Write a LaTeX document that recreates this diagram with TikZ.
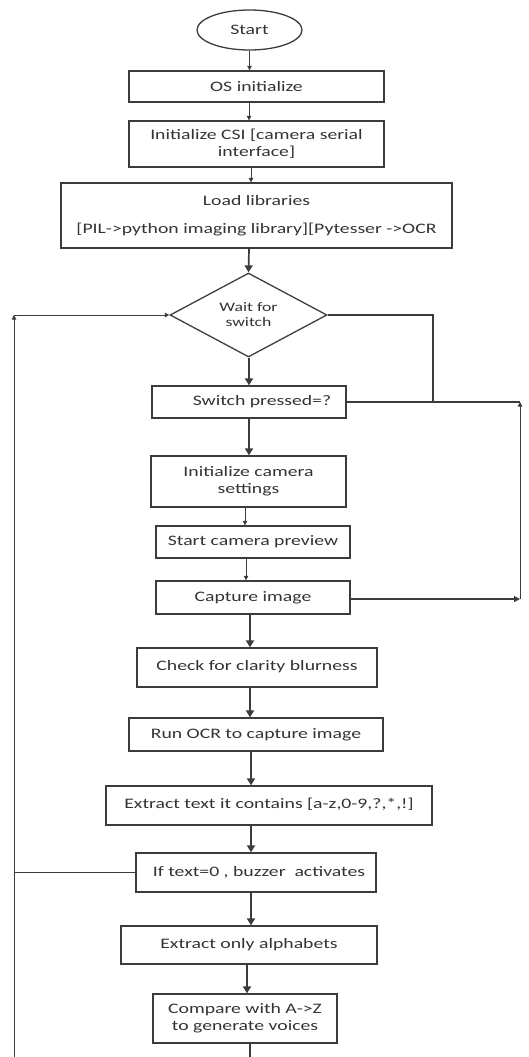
\documentclass[tikz,border=0pt]{standalone}
\usepackage{fontspec}
\setmainfont{Carlito}[FakeStretch=1.36]
\usetikzlibrary{shapes.geometric,arrows.meta}
\definecolor{ln}{HTML}{3C3C3C}
\tikzset{
  box/.style={draw=ln, line width=1.3pt, rectangle, inner sep=0pt, align=center, font=\fontsize{14.5}{17}\selectfont, text=black!80},
  thin/.style={draw=ln, line width=0.9pt, -{Triangle[width=4.5pt,length=4.5pt]}},
  bold/.style={draw=ln, line width=1.7pt, -{Triangle[width=8pt,length=7pt]}},
  plain/.style={draw=ln, line width=1.1pt},
}
\begin{document}
\begin{tikzpicture}[x=1pt,y=-1pt]
\useasboundingbox (0,0) rectangle (528,1057);
\node[box, ellipse, minimum width=105, minimum height=40] (start) at (249.5,30) {Start};
\node[box, minimum width=255, minimum height=31] (os) at (256.5,86.5) {OS initialize};
\node[box, minimum width=255, minimum height=46] (csi) at (256.5,144) {Initialize CSI [camera serial\\interface]};
\node[box, minimum width=391, minimum height=65] (load) at (256.5,215.5) {Load libraries\\[11pt][PIL->python imaging library][Pytesser ->OCR};
\node[box, diamond, aspect=1.87, minimum width=157, minimum height=84, font=\fontsize{13}{15}\selectfont] (wait) at (248.5,315) {Wait for\\switch};
\node[box, minimum width=194, minimum height=32] (switch) at (249,402) {\hspace{26pt}Switch pressed=?};
\node[box, minimum width=195, minimum height=51] (initcam) at (248.5,481.5) {Initialize camera\\settings};
\node[box, minimum width=194, minimum height=32] (preview) at (253,542) {Start camera preview};
\node[box, minimum width=194, minimum height=33] (capture) at (253,597.5) {Capture image};
\node[box, minimum width=240, minimum height=39] (check) at (257,667.5) {\raisebox{4pt}{Check for clarity blurness}};
\node[box, minimum width=254, minimum height=33] (ocr) at (256,734.5) {Run OCR to capture image};
\node[box, minimum width=326, minimum height=39] (extract) at (269,805.5) {\raisebox{4pt}{Extract text it contains [a-z,0-9,?,*,!]}};
\node[box, minimum width=240, minimum height=39] (iftext) at (256,872.5) {\hspace{6pt}If text=0 , buzzer \ activates};
\node[box, minimum width=256, minimum height=38] (only) at (249,945) {\raisebox{3pt}{Extract only alphabets}};
\node[box, minimum width=184, minimum height=49] (compare) at (245,1018.5) {Compare with A->Z\\to generate voices};

\coordinate (L1) at (14,1057);
\coordinate (L2) at (14,315);
\coordinate (R1) at (433,315);
\coordinate (R2) at (433,402);
\coordinate (R3) at (520,599);
\coordinate (R4) at (520,402);
\coordinate (E) at (250,1057);

\draw[thin] (start.south) -- (start.south |- os.north);
\draw[thin] (os.south -| 249,0) -- (249,0 |- csi.north);
\draw[thin] (csi.south -| 251,0) -- (251,0 |- load.north);
\draw[bold] (load.south -| 249,0) -- (wait.north);
\draw[bold] (wait.south -| 249,0) -- (249,0 |- switch.north);
\draw[bold] (switch.south) -- (switch.south |- initcam.north);
\draw[thin] (initcam.south -| 245,0) -- (245,0 |- preview.north);
\draw[thin] (preview.south -| 246,0) -- (246,0 |- capture.north);
\draw[bold] (capture.south -| 250,0) -- (250,0 |- check.north);
\draw[bold] (check.south -| 250,0) -- (250,0 |- ocr.north);
\draw[bold] (ocr.south -| 251,0) -- (251,0 |- extract.north);
\draw[bold] (extract.south -| 251,0) -- (251,0 |- iftext.north);
\draw[bold] (iftext.south -| 251,0) -- (251,0 |- only.north);
\draw[bold] (only.south -| 247,0) -- (247,0 |- compare.north);
\draw[plain, line width=1.6pt] (compare.south -| E) -- (E);

\draw[thin] (L1) -- (L2);
\draw[thin] (L2) -- (wait.west);
\draw[plain] (iftext.west) -- (iftext.west -| L1);
\draw[plain] (wait.east) -- (R1) -- (R2);
\draw[plain] (switch.east) -- (R4);
\draw[draw=ln, line width=1.1pt, -{Triangle[width=6pt,length=6pt]}] (capture.east |- R3) -- (R3);
\draw[thin] (R3) -- (R4);
\end{tikzpicture}
\end{document}
